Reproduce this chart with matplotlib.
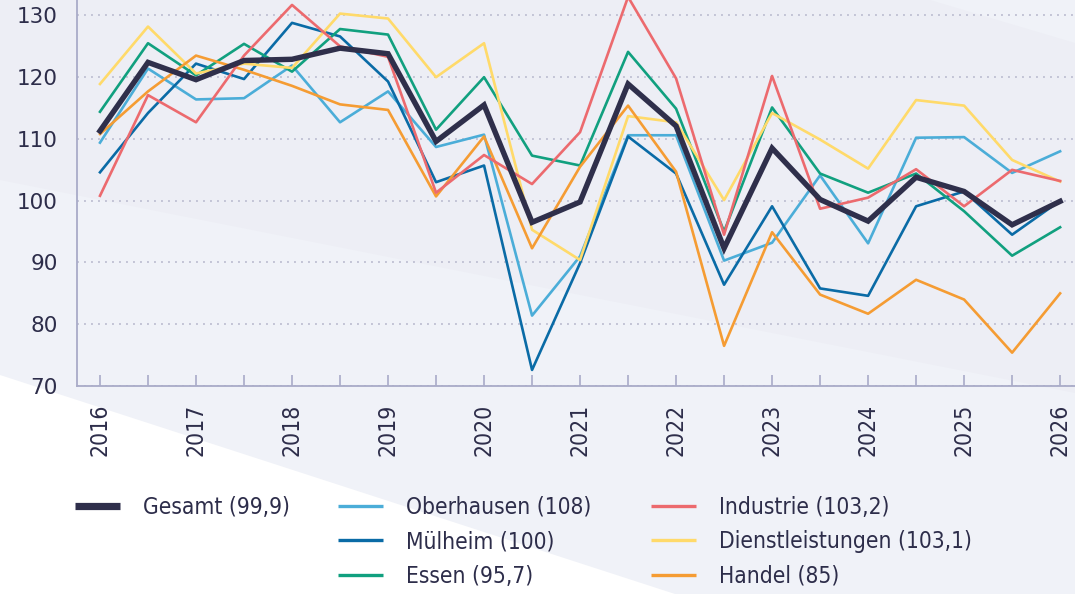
import matplotlib
matplotlib.use("Agg")
import matplotlib.pyplot as plt
from matplotlib.patches import Polygon
import numpy as np

# Halbjahreswerte 2016 .. 2026
jahre = ["2016", "2017", "2018", "2019", "2020", "2021",
         "2022", "2023", "2024", "2025", "2026"]

gesamt = [111.3, 122.4, 119.6, 122.7, 122.9, 124.7, 123.8, 109.6, 115.5, 96.5, 99.8,
          118.9, 112.1, 92.3, 108.5, 100.2, 96.7, 103.8, 101.5, 96.1, 99.9]
oberhausen = [109.4, 121.4, 116.4, 116.6, 121.9, 112.7, 117.7, 108.7, 110.7, 81.4, 91.0,
              110.6, 110.6, 90.3, 93.2, 104.1, 93.1, 110.2, 110.3, 104.5, 108.0]
muelheim = [104.6, 114.2, 122.2, 119.7, 128.8, 126.6, 119.3, 103.0, 105.7, 72.6, 89.9,
            110.4, 104.4, 86.4, 99.1, 85.8, 84.6, 99.1, 101.5, 94.5, 100.0]
essen = [114.4, 125.5, 120.3, 125.4, 120.9, 127.8, 126.9, 111.5, 120.0, 107.3, 105.7,
         124.1, 114.9, 95.0, 115.1, 104.4, 101.3, 104.4, 98.3, 91.1, 95.7]
industrie = [100.8, 117.1, 112.7, 123.5, 131.7, 125.0, 123.3, 101.3, 107.4, 102.7, 111.1,
             133.0, 119.8, 94.5, 120.2, 98.7, 100.5, 105.1, 99.1, 105.0, 103.2]
dienstleistungen = [118.9, 128.2, 120.6, 122.2, 121.5, 130.3, 129.5, 120.0, 125.5, 95.3, 90.4,
                    113.7, 112.7, 100.1, 114.2, 109.9, 105.2, 116.3, 115.4, 106.6, 103.1]
handel = [110.8, 117.7, 123.5, 121.2, 118.6, 115.6, 114.7, 100.7, 110.4, 92.3, 105.5,
          115.4, 104.7, 76.5, 94.9, 84.8, 81.7, 87.2, 84.0, 75.4, 85.0]

labels = {
    "gesamt": "Gesamt (99,9)",
    "oberhausen": "Oberhausen (108)",
    "muelheim": "Mülheim (100)",
    "essen": "Essen (95,7)",
    "industrie": "Industrie (103,2)",
    "dienstleistungen": "Dienstleistungen (103,1)",
    "handel": "Handel (85)",
}

TEXT = "#2d2d4a"
AXIS = "#a9abc8"

fig = plt.figure(figsize=(10.75, 5.94), dpi=100)
fig.patch.set_facecolor("#edeef5")

# Hintergrundflaechen
W, H = 1075, 594
def px(x, y):
    return (x / W, 1 - y / H)
for pts, fc in [
    ([px(0, 180), px(1075, 393), px(1075, 594), px(0, 594)], "#f0f2f8"),
    ([px(930, 0), px(1075, 0), px(1075, 43)], "#f0f2f8"),
    ([px(0, 375), px(675, 594), px(0, 594)], "#ffffff"),
]:
    fig.patches.append(Polygon(pts, closed=True, transform=fig.transFigure,
                               fc=fc, ec="none", zorder=-10))

ax = fig.add_axes([77 / W, 1 - 386 / H, 1 - 77 / W, 386 / H])
ax.set_zorder(1)
ax.patch.set_alpha(0)

x = np.arange(len(gesamt))

l_ob, = ax.plot(x, oberhausen, color="#4badd8", lw=1.9, label=labels["oberhausen"])
l_mu, = ax.plot(x, muelheim, color="#0a6ba6", lw=1.9, label=labels["muelheim"])
l_es, = ax.plot(x, essen, color="#11a07f", lw=1.9, label=labels["essen"])
l_di, = ax.plot(x, dienstleistungen, color="#ffda6a", lw=1.9, label=labels["dienstleistungen"])
l_ha, = ax.plot(x, handel, color="#f59c33", lw=1.9, label=labels["handel"])
l_in, = ax.plot(x, industrie, color="#ec6a6e", lw=1.9, label=labels["industrie"])
l_ge, = ax.plot(x, gesamt, color="#2f2f4b", lw=3.9, label=labels["gesamt"],
                solid_joinstyle="miter", zorder=5)

ax.set_xlim(-0.479, 20.31)
ax.set_ylim(70, 132.5)

ax.set_yticks([70, 80, 90, 100, 110, 120, 130])
ax.yaxis.grid(True, color="#c3c4d6", lw=1.4, linestyle=(0, (1, 2.6)))
ax.set_axisbelow(True)

ax.set_xticks(x)
ax.set_xticklabels([jahre[i // 2] if i % 2 == 0 else "" for i in x],
                   rotation=90, fontsize=16.5, color=TEXT, fontstretch="condensed")
ax.tick_params(axis="x", direction="in", length=8, width=1.2, color=AXIS, pad=13)
ax.tick_params(axis="y", length=0, pad=14, labelsize=15.5, labelcolor=TEXT)

for s in ["top", "right"]:
    ax.spines[s].set_visible(False)
for s in ["left", "bottom"]:
    ax.spines[s].set_color(AXIS)
    ax.spines[s].set_linewidth(1.3)

# Legende in drei Spalten
spalten = [([l_ge], 75), ([l_ob, l_mu, l_es], 338), ([l_in, l_di, l_ha], 651)]
for handles, xpos in spalten:
    leg = fig.legend(handles=handles, loc="upper left",
                     bbox_to_anchor=px(xpos, 496), bbox_transform=fig.transFigure,
                     frameon=False, borderpad=0, borderaxespad=0,
                     handlelength=2.0, handletextpad=1.0, labelspacing=0.5,
                     prop={"size": 16.3, "stretch": "condensed"})
    for t in leg.get_texts():
        t.set_color(TEXT)
    for h in leg.legend_handles:
        h.set_linewidth(5.2 if h.get_label() == labels["gesamt"] else 2.4)
        h.set_solid_capstyle("butt")

fig.savefig("out.png", dpi=100, facecolor=fig.get_facecolor())
